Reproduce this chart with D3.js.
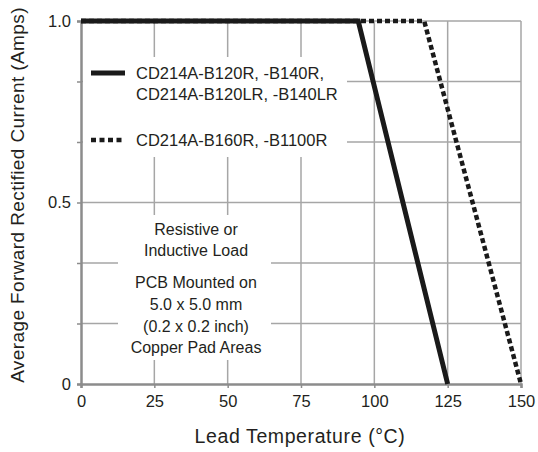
<!DOCTYPE html>
<html><head><meta charset="utf-8">
<script src="https://cdn.jsdelivr.net/npm/d3@7"></script>
<style>
body{margin:0;background:#fff;}
text{font-family:"Liberation Sans",Arial,sans-serif;fill:#231f20;}
</style></head>
<body><svg id="c" width="538" height="452"></svg>
<script>
// Data
const xTicks = [0, 25, 50, 75, 100, 125, 150];
const yGrid = [0, 1/6, 2/6, 3/6, 4/6, 5/6, 1];
const yLabels = [{v:0, t:"0"}, {v:0.5, t:"0.5"}, {v:1, t:"1.0"}];
const seriesNames = ["CD214A-B120R, -B140R,|CD214A-B120LR, -B140LR", "CD214A-B160R, -B1100R"];
const seriesA_temp = [0, 94.5, 125];
const seriesA_amps = [1.0, 1.0, 0];
const seriesB_temp = [0, 117, 150];
const seriesB_amps = [1.0, 1.0, 0];
const notes = ["Resistive or", "Inductive Load", "PCB Mounted on", "5.0 x 5.0 mm", "(0.2 x 0.2 inch)", "Copper Pad Areas"];

const FONT = "'Liberation Sans',Arial,sans-serif";
const svg = d3.select("#c");
const x = d3.scaleLinear().domain([0,150]).range([81,521]);
const y = d3.scaleLinear().domain([0,1]).range([384,21]);

const grid = svg.append("g");
grid.selectAll("line.v").data(xTicks.slice(1,-1)).join("line")
  .attr("x1",d=>x(d)).attr("x2",d=>x(d)).attr("y1",y(0)).attr("y2",y(1))
  .attr("stroke","#a6a6a6").attr("stroke-width",1.5);
grid.selectAll("line.h").data(yGrid.slice(1,-1)).join("line")
  .attr("x1",x(0)).attr("x2",x(150)).attr("y1",d=>y(d)).attr("y2",d=>y(d))
  .attr("stroke","#a6a6a6").attr("stroke-width",1.5);
svg.append("line").attr("x1",x(0)).attr("x2",x(150)).attr("y1",y(1)).attr("y2",y(1)).attr("stroke","#a6a6a6").attr("stroke-width",1.5);
svg.append("line").attr("x1",x(150)).attr("x2",x(150)).attr("y1",y(1)).attr("y2",y(0)).attr("stroke","#a6a6a6").attr("stroke-width",1.5);

// white boxes behind texts
svg.append("rect").attr("x",83).attr("y",57).attr("width",264).attr("height",100).attr("fill","#fff");
svg.append("rect").attr("x",118).attr("y",215).attr("width",153).attr("height",145).attr("fill","#fff");

// axes
const xAxis = d3.axisBottom(x).tickValues(xTicks).tickSize(4).tickPadding(7).tickFormat(d3.format("d"));
const gx = svg.append("g").attr("transform",`translate(0,${y(0)})`).call(xAxis);
gx.select(".domain").attr("stroke","#8c8c8c").attr("stroke-width",2.5);
gx.selectAll(".tick line").attr("stroke","#8c8c8c").attr("stroke-width",1.5);
gx.selectAll(".tick text").attr("font-size",16.5).attr("fill","#231f20").style("font-family",FONT);

const yAxis = d3.axisLeft(y).tickValues(yGrid).tickSize(4).tickPadding(6)
  .tickFormat(d=>{const l=yLabels.find(o=>Math.abs(o.v-d)<1e-9);return l?l.t:"";});
const gy = svg.append("g").attr("transform",`translate(${x(0)},0)`).call(yAxis);
gy.select(".domain").attr("stroke","#8c8c8c").attr("stroke-width",2.5);
gy.selectAll(".tick line").attr("stroke","#8c8c8c").attr("stroke-width",1.5);
gy.selectAll(".tick text").attr("font-size",16.5).attr("fill","#231f20").style("font-family",FONT);

// series lines
const line = d3.line().x(d=>x(d[0])).y(d=>y(d[1]));
svg.append("path").datum(seriesB_temp.map((t,i)=>[t,seriesB_amps[i]]))
  .attr("d",line).attr("fill","none").attr("stroke","#1a1a1a").attr("stroke-width",4.5).attr("stroke-dasharray","5,3");
svg.append("path").datum(seriesA_temp.map((t,i)=>[t,seriesA_amps[i]]))
  .attr("d",line).attr("fill","none").attr("stroke","#1a1a1a").attr("stroke-width",5);

// legend
svg.append("line").attr("x1",91).attr("x2",125).attr("y1",73).attr("y2",73).attr("stroke","#1a1a1a").attr("stroke-width",5);
svg.append("line").attr("x1",91).attr("x2",125).attr("y1",140).attr("y2",140).attr("stroke","#1a1a1a").attr("stroke-width",4.5).attr("stroke-dasharray","5,3.5");
const l1 = seriesNames[0].split("|");
svg.append("text").attr("x",136).attr("y",79).attr("font-size",16.5).text(l1[0]);
svg.append("text").attr("x",136).attr("y",100).attr("font-size",16.5).text(l1[1]);
svg.append("text").attr("x",136).attr("y",146).attr("font-size",16.5).text(seriesNames[1]);

// notes
const ny = [235, 256, 288, 310, 332, 353];
svg.selectAll("text.note").data(notes).join("text").attr("class","note")
  .attr("x",196).attr("y",(d,i)=>ny[i]).attr("text-anchor","middle").attr("font-size",16)
  .text(d=>d);

// axis titles
svg.append("text").attr("x",300).attr("y",443).attr("text-anchor","middle").attr("font-size",19.5).style("letter-spacing","0.6px").text("Lead Temperature (°C)");
svg.append("text").attr("transform","translate(24,195) rotate(-90)").attr("text-anchor","middle").attr("font-size",19).style("letter-spacing","0.4px").text("Average Forward Rectified Current (Amps)");
</script></body></html>
